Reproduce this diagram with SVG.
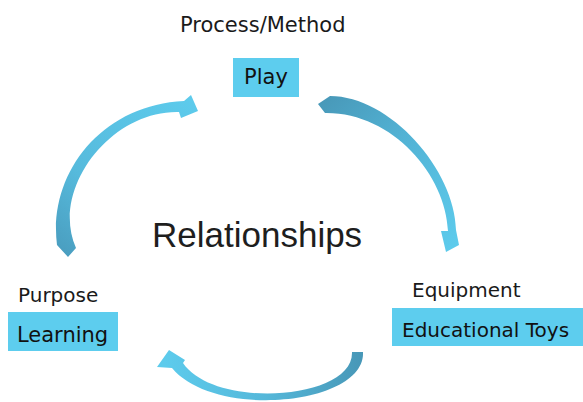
<svg xmlns="http://www.w3.org/2000/svg" width="583" height="402" viewBox="0 0 583 402">
  <style>
    .box { fill: #5DCDEE; }
    .lbl { font-family: "DejaVu Sans", "Liberation Sans", sans-serif; fill: #1a1a1a; }
    .boxtxt { font-family: "DejaVu Sans", "Liberation Sans", sans-serif; fill: #111; }
    .center { font-family: "Liberation Sans", Arial, sans-serif; font-size: 35px; fill: #1e1e1e; }
  </style>
  <defs>
    <linearGradient id="gLeft" gradientUnits="userSpaceOnUse" x1="65" y1="255" x2="195" y2="100">
      <stop offset="0" stop-color="#4A9EC0"/>
      <stop offset="0.35" stop-color="#56BADC"/>
      <stop offset="1" stop-color="#5DCBEC"/>
    </linearGradient>
    <linearGradient id="gRight" gradientUnits="userSpaceOnUse" x1="320" y1="100" x2="452" y2="250">
      <stop offset="0" stop-color="#4898B8"/>
      <stop offset="0.4" stop-color="#52B2D4"/>
      <stop offset="1" stop-color="#5DCBEC"/>
    </linearGradient>
    <linearGradient id="gBottom" gradientUnits="userSpaceOnUse" x1="360" y1="355" x2="165" y2="360">
      <stop offset="0" stop-color="#4898B8"/>
      <stop offset="0.5" stop-color="#55B8DA"/>
      <stop offset="1" stop-color="#5DCBEC"/>
    </linearGradient>
  </defs>

  <rect width="583" height="402" fill="#FFFFFF"/>

  <g id="connectors">
    <path id="arrow-learning-play" fill="url(#gLeft)"
      d="M 76,248 L 68,257 L 57,245 C 48,175 100,105 184,101 L 191,95 L 198,111 L 181,118 L 179,112 C 110,110 50,190 76,248 Z"/>
    <path id="arrow-play-toys" fill="url(#gRight)"
      d="M 318,104 L 330,96 C 390,96 455,170 456,230 L 459,245 L 446,252 L 441,231 L 448,231 C 446,175 392,112 325,113 Z"/>
    <path id="arrow-toys-learning" fill="url(#gBottom)"
      d="M 352,352 L 363,352 C 366,405 215,420 172,368 L 157,367 L 169,350 L 185,360 L 183,363 C 215,410 354,400 352,352 Z"/>
  </g>

  <g id="node-play">
    <text class="lbl" x="180" y="32" font-size="21">Process/Method</text>
    <rect class="box" x="233" y="58" width="66" height="39"/>
    <text class="boxtxt" x="266" y="84" font-size="21" text-anchor="middle">Play</text>
  </g>

  <g id="node-learning">
    <text class="lbl" x="18" y="302" font-size="20">Purpose</text>
    <rect class="box" x="8" y="312" width="110" height="39"/>
    <text class="boxtxt" x="17" y="342" font-size="21">Learning</text>
  </g>

  <g id="node-toys">
    <text class="lbl" x="412" y="297" font-size="20">Equipment</text>
    <rect class="box" x="392" y="308" width="191" height="38"/>
    <text class="boxtxt" x="402" y="337" font-size="20">Educational Toys</text>
  </g>

  <g id="center-label">
    <text class="center" x="152" y="247">Relationships</text>
  </g>
</svg>
